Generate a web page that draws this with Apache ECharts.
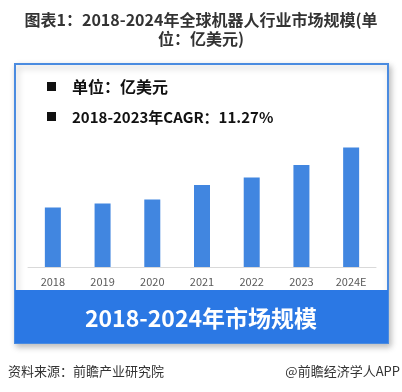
<!DOCTYPE html>
<html>
<head>
<meta charset="utf-8">
<script src="https://cdn.jsdelivr.net/npm/echarts@6/dist/echarts.min.js"></script>
<style>
  html, body { margin: 0; padding: 0; background: #fff; }
  #main { width: 402px; height: 392px; }
</style>
</head>
<body>
<div id="main"></div>
<script>
const years = ['2018', '2019', '2020', '2021', '2022', '2023', '2024E'];
const marketSize = [298, 317, 338, 410, 448, 510, 598];
const notes = ['单位：亿美元', '2018-2023年CAGR：11.27%'];

const chart = echarts.init(document.getElementById('main'));
const font = '"Noto Sans CJK SC", "Noto Sans", sans-serif';

const option = {
    animation: false,
    backgroundColor: '#fff',
    grid: {
        left: 28,
        right: 26,
        top: 147,
        bottom: 125
    },
    xAxis: {
        type: 'category',
        data: years,
        axisLine: { lineStyle: { color: '#d9d9d9' } },
        axisTick: { show: false },
        axisLabel: {
            color: '#595959',
            fontSize: 11,
            fontFamily: font,
            margin: 9
        }
    },
    yAxis: {
        type: 'value',
        min: 0,
        max: 600,
        show: false,
        splitLine: { show: false }
    },
    series: [
        {
            type: 'bar',
            data: marketSize,
            barWidth: 16,
            itemStyle: { color: '#4186e0' },
            z: 5
        }
    ],
    graphic: [
        // title, two lines
        {
            type: 'text',
            x: 201,
            y: 20,
            style: {
                text: '图表1：2018-2024年全球机器人行业市场规模(单',
                fill: '#333',
                fontFamily: font,
                fontSize: 16,
                fontWeight: 'bold',
                align: 'center',
                verticalAlign: 'middle'
            }
        },
        {
            type: 'text',
            x: 201,
            y: 39,
            style: {
                text: '位：亿美元)',
                fill: '#333',
                fontFamily: font,
                fontSize: 16,
                fontWeight: 'bold',
                align: 'center',
                verticalAlign: 'middle'
            }
        },
        {
            type: 'rect',
            z: -1,
            shape: { x: 15, y: 64, width: 373, height: 279 },
            style: {
                fill: '#fff',
                stroke: '#4a8be0',
                lineWidth: 2,
                shadowBlur: 6,
                shadowOffsetX: 2,
                shadowOffsetY: 3,
                shadowColor: 'rgba(0,0,0,0.25)'
            }
        },
        {
            type: 'rect',
            z: 10,
            shape: { x: 15, y: 290, width: 373, height: 53 },
            style: { fill: '#2b78e4' }
        },
        {
            type: 'text',
            z: 11,
            x: 201,
            y: 318,
            style: {
                text: '2018-2024年市场规模',
                fill: '#fff',
                fontFamily: font,
                fontSize: 23,
                fontWeight: 'bold',
                align: 'center',
                verticalAlign: 'middle'
            }
        },
        {
            type: 'rect',
            z: 11,
            shape: { x: 47, y: 82, width: 9, height: 9 },
            style: { fill: '#111' }
        },
        {
            type: 'text',
            z: 11,
            x: 72,
            y: 87,
            style: {
                text: notes[0],
                fill: '#111',
                fontFamily: font,
                fontSize: 16,
                fontWeight: 'bold',
                verticalAlign: 'middle'
            }
        },
        {
            type: 'rect',
            z: 11,
            shape: { x: 47, y: 112, width: 9, height: 9 },
            style: { fill: '#111' }
        },
        {
            type: 'text',
            z: 11,
            x: 72,
            y: 117,
            style: {
                text: notes[1],
                fill: '#111',
                fontFamily: font,
                fontSize: 15,
                fontWeight: 'bold',
                verticalAlign: 'middle'
            }
        },
        {
            type: 'text',
            x: 8,
            y: 371,
            style: {
                text: '资料来源：前瞻产业研究院',
                fill: '#333',
                fontFamily: font,
                fontSize: 13,
                verticalAlign: 'middle'
            }
        },
        {
            type: 'text',
            x: 400,
            y: 371,
            style: {
                text: '@前瞻经济学人APP',
                fill: '#333',
                fontFamily: font,
                fontSize: 13,
                align: 'right',
                verticalAlign: 'middle'
            }
        }
    ]
};

chart.setOption(option);
</script>
</body>
</html>
